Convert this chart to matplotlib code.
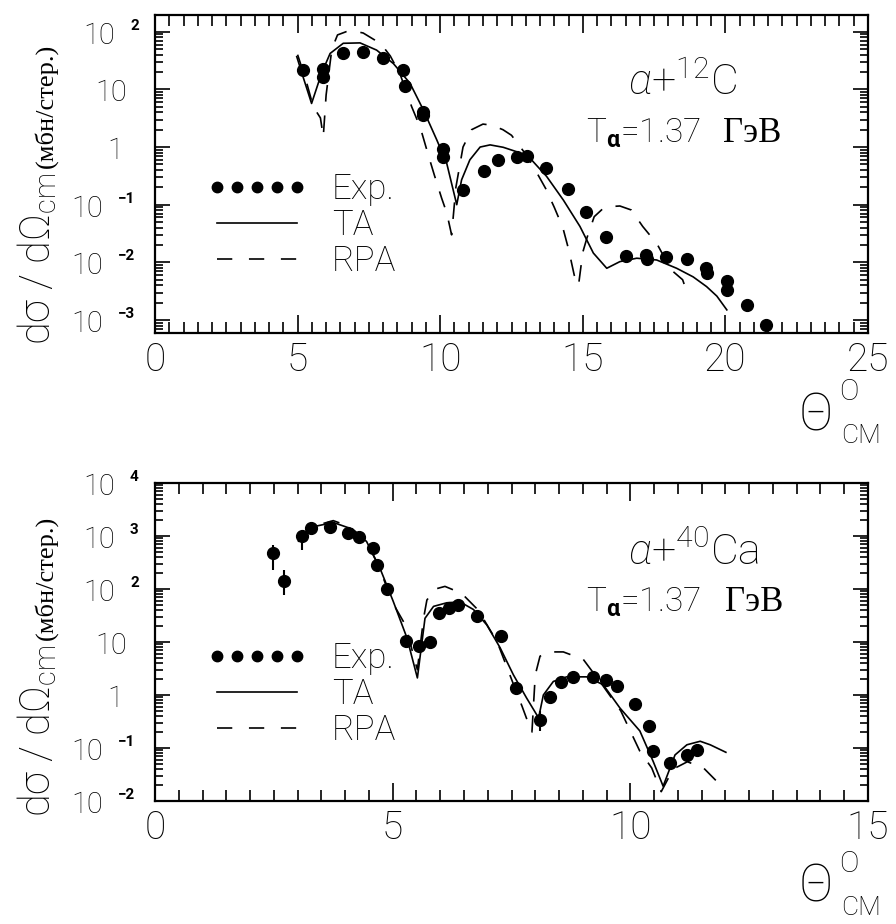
import matplotlib
matplotlib.use("Agg")
import matplotlib.pyplot as plt
from matplotlib.ticker import MultipleLocator, LogLocator, NullFormatter
from matplotlib.transforms import blended_transform_factory, offset_copy
from matplotlib.lines import Line2D

plt.rcParams['font.family'] = ['Roboto', 'DejaVu Sans']
plt.rcParams['font.weight'] = 'light'
plt.rcParams['mathtext.fontset'] = 'custom'
plt.rcParams['mathtext.rm'] = 'Roboto:light'
plt.rcParams['mathtext.it'] = 'Roboto:italic:light'
plt.rcParams['mathtext.bf'] = 'Roboto:bold'
plt.rcParams['lines.scale_dashes'] = False

# ---------------- data : alpha + 12C ----------------
c12_exp_theta = [5.18, 5.90, 5.88, 6.60, 7.28, 8.01, 8.68, 8.77, 9.39, 9.41, 10.09, 10.11,
                 10.81, 11.54, 12.04, 12.68, 13.03, 13.71, 14.49, 15.11, 15.81, 16.51, 17.21,
                 17.24, 17.92, 18.64, 19.32, 19.37, 20.05, 20.07, 20.75, 21.42]
c12_exp_sigma = [21.7, 23, 16.6, 42, 45, 34.6, 21.7, 11.5, 4.1, 3.6, 0.91, 0.66,
                 0.18, 0.39, 0.60, 0.68, 0.70, 0.43, 0.19, 0.076, 0.027, 0.013, 0.0135,
                 0.0113, 0.0126, 0.0113, 0.0079, 0.0065, 0.0047, 0.0033, 0.0018, 0.00083]

c12_ta_theta = [4.97, 5.2, 5.49, 5.84, 6.14, 6.60, 7.19, 7.77, 8.36, 8.94, 9.41, 9.88, 10.23,
                10.58, 10.75, 11.04, 11.40, 11.75, 12.21, 12.68, 13.15, 13.73, 14.32, 14.90,
                15.37, 15.84, 16.30, 16.89, 17.59, 18.29, 18.87, 19.34, 19.70, 20.05]
c12_ta_sigma = [37, 16, 5.7, 19, 42, 63, 64, 48, 28, 12.8, 4.4, 1.33, 0.52,
                0.1, 0.27, 0.6, 1.0, 1.09, 0.99, 0.83, 0.64, 0.31, 0.12, 0.042,
                0.0145, 0.0079, 0.0103, 0.0118, 0.011, 0.0079, 0.0056, 0.0038, 0.0026, 0.0015]

c12_rpa_theta = [5.0, 5.3, 5.55, 5.8, 5.9, 6.0, 6.2, 6.4, 6.7, 7.0, 7.3, 7.7, 8.0, 8.25, 8.6,
                 9.0, 9.3, 9.6, 9.8, 10.05, 10.23, 10.4, 10.55, 10.8, 11.1, 11.5, 11.8, 12.2,
                 12.5, 13.0, 13.4, 13.7, 14.0, 14.3, 14.5, 14.7, 14.85, 15.0, 15.15, 15.4,
                 15.7, 16.0, 16.3, 16.7, 17.1, 17.6, 18.1, 18.5, 18.7]
c12_rpa_sigma = [40, 14, 5, 3.2, 1.5, 8, 50, 88, 100, 102, 95, 72, 55, 38, 18,
                 5, 2.2, 0.68, 0.32, 0.13, 0.072, 0.03, 0.2, 1.0, 2.0, 2.5, 2.4, 2.0,
                 1.6, 0.75, 0.35, 0.19, 0.09, 0.04, 0.017, 0.006, 0.004, 0.015, 0.027, 0.062,
                 0.085, 0.093, 0.095, 0.081, 0.042, 0.021, 0.0074, 0.005, 0.0026]

# ---------------- data : alpha + 40Ca ----------------
ca_exp_theta = [2.48, 2.72, 3.09, 3.28, 3.68, 4.07, 4.30, 4.59, 4.68, 4.89, 5.28, 5.55,
                5.79, 5.98, 6.19, 6.38, 6.78, 7.27, 7.60, 8.09, 8.30, 8.54, 8.79, 9.22,
                9.49, 9.72, 10.10, 10.40, 10.48, 10.84, 11.19, 11.40]
ca_exp_sigma = [475, 140, 990, 1420, 1510, 1140, 960, 590, 280, 98, 10.6, 8.3,
                10, 35, 44, 49, 30.5, 12.8, 1.35, 0.34, 0.91, 1.77, 2.15, 2.15,
                1.95, 1.5, 0.68, 0.26, 0.087, 0.052, 0.074, 0.093]
ca_err_lo = [245, 62, 440, 0, 0, 0, 0, 0, 0, 0, 0, 0,
             0, 0, 0, 0, 0, 0, 0, 0.13, 0, 0, 0, 0,
             0, 0, 0, 0, 0, 0, 0, 0]
ca_err_hi = [205, 90, 300, 0, 0, 0, 0, 0, 0, 0, 0, 0,
             0, 0, 0, 0, 0, 0, 0, 0.16, 0, 0, 0, 0,
             0, 0, 0, 0, 0, 0, 0, 0]

ca_ta_theta = [3.02, 3.26, 3.75, 4.10, 4.45, 4.73, 5.01, 5.30, 5.52, 5.68, 5.86, 6.14, 6.42,
               6.70, 6.98, 7.26, 7.54, 7.82, 8.07, 8.17, 8.38, 8.66, 9.08, 9.43, 9.78, 10.2,
               10.48, 10.69, 10.94, 11.19, 11.47, 11.68, 12.01]
ca_ta_sigma = [800, 1450, 1800, 1400, 790, 250, 59, 12, 2.1, 28, 47, 55, 57,
               41, 21, 7.8, 2.4, 0.87, 0.37, 1.0, 1.8, 2.2, 2.2, 1.56, 0.57, 0.21,
               0.056, 0.019, 0.074, 0.115, 0.134, 0.115, 0.083]

ca_rpa_theta = [3.0, 3.3, 3.75, 4.1, 4.45, 4.73, 5.0, 5.28, 5.45, 5.52, 5.65, 5.72, 5.9, 6.1,
                6.45, 6.8, 7.2, 7.61, 7.72, 7.85, 7.93, 8.0, 8.1, 8.3, 8.59, 9.01, 9.4, 9.8,
                10.2, 10.45, 10.65, 10.9, 11.2, 11.54, 11.85]
ca_rpa_sigma = [900, 1500, 1950, 1500, 800, 240, 55, 20, 5, 3, 28, 62, 100, 112,
                83, 40, 10, 1.1, 0.62, 0.3, 0.2, 2.4, 5.4, 6.5, 6.5, 4.7, 1.6, 0.5,
                0.087, 0.042, 0.015, 0.04, 0.055, 0.042, 0.022]

legend_labels = ["Exp.", "TA", "RPA"]

W, H = 896, 924
fig = plt.figure(figsize=(W / 100, H / 100), dpi=100)
renderer = fig.canvas.get_renderer()


def fpos(x, y):
    return x / W, 1 - y / H


def make_axes(top_px, bottom_px):
    left, right = 155, 868
    return fig.add_axes([left / W, 1 - bottom_px / H, (right - left) / W, (bottom_px - top_px) / H])


def style_axes(ax, xmax, ylim, decades):
    ax.set_yscale('log')
    ax.set_xlim(0, xmax)
    ax.set_ylim(*ylim)
    ax.xaxis.set_major_locator(MultipleLocator(5))
    ax.xaxis.set_minor_locator(MultipleLocator(0.5))
    ax.yaxis.set_major_locator(LogLocator(base=10, numticks=20))
    ax.yaxis.set_minor_locator(LogLocator(base=10, subs=[2, 3, 4, 5, 6, 7, 8, 9], numticks=20))
    ax.yaxis.set_major_formatter(NullFormatter())
    ax.yaxis.set_minor_formatter(NullFormatter())
    ax.tick_params(which='both', direction='in', top=True, right=True, width=1.2, color='black')
    ax.tick_params(axis='y', which='major', length=11)
    ax.tick_params(axis='y', which='minor', length=6)
    ax.tick_params(axis='x', which='major', length=13)
    ax.tick_params(axis='x', which='minor', length=8)
    ax.tick_params(axis='x', which='major', labelsize=28, pad=6)
    for s in ax.spines.values():
        s.set_linewidth(1.6)
    trans = blended_transform_factory(ax.transAxes, ax.transData)
    for n in decades:
        v = 10.0 ** n
        if n == 0:
            ax.text(0, v, "1", transform=offset_copy(trans, fig=fig, x=-32, y=-4, units='dots'),
                    ha='right', va='center', fontsize=21)
        elif n == 1:
            ax.text(0, v, "10", transform=offset_copy(trans, fig=fig, x=-28, y=-4, units='dots'),
                    ha='right', va='center', fontsize=21)
        else:
            base_dx = -40 if n > 1 else -52
            exp_dx = -25 if n > 1 else -37
            ax.text(0, v, "10", transform=offset_copy(trans, fig=fig, x=base_dx, y=-4, units='dots'),
                    ha='right', va='center', fontsize=21)
            lab = str(n) if n > 0 else "\u2212" + str(-n)
            ax.text(0, v, lab, transform=offset_copy(trans, fig=fig, x=exp_dx, y=6, units='dots'),
                    ha='left', va='center', fontsize=11, fontweight='bold')


def add_legend(ax, ytop):
    handles = [Line2D([], [], ls='none', marker='o', ms=7.5, color='black'),
               Line2D([], [], ls='-', lw=1.2, color='black'),
               Line2D([], [], ls=(0, (11, 12)), lw=1.2, color='black')]
    ax.legend(handles, legend_labels, loc='upper left', bbox_to_anchor=(0.073, ytop),
              frameon=False, fontsize=25, numpoints=5, handlelength=2.9, handletextpad=0.7,
              labelspacing=0.08, borderpad=0, borderaxespad=0)


def add_ylabel(y_bottom):
    x, y = fpos(50, y_bottom)
    t1 = fig.text(x, y, "d\u03c3 / d\u03a9$_{\\mathrm{cm}}$", rotation=90, rotation_mode='anchor',
                  ha='left', va='baseline', fontsize=30)
    bb = t1.get_window_extent(renderer)
    y2 = (bb.y1 + 5) / H
    fig.text(52 / W, y2, "(\u043c\u0431\u043d/\u0441\u0442\u0435\u0440.)", rotation=90,
             rotation_mode='anchor', ha='left', va='baseline', fontsize=19, family='Liberation Serif')


def add_theta_label(yc):
    fig.text(*fpos(816, yc), "\u0398", ha='center', va='center', fontsize=37)
    fig.text(*fpos(849, yc - 24), "O", ha='center', va='center', fontsize=21)
    fig.text(*fpos(861, yc + 20), "CM", ha='center', va='center', fontsize=19)


def plot_panel(ax, et, es, tt, ts, rt, rs, yerr=None):
    if yerr is not None:
        ax.errorbar(et, es, yerr=yerr, fmt='none', ecolor='black', elinewidth=1.5, capsize=0)
    ax.plot(et, es, ls='none', marker='o', ms=8.5, color='black')
    ax.plot(tt, ts, ls='-', lw=1.2, color='black')
    ax.plot(rt, rs, ls=(0, (12, 10)), lw=1.2, color='black')


def add_labels(ax, nucleus, y1, y2, x_gev):
    ax.text(0.663, y1, "$\\alpha$+$^{" + nucleus[0] + "}$" + nucleus[1], transform=ax.transAxes,
            fontsize=31, va='baseline')
    ax.text(0.604, y2, "T$_{\\mathbf{\\alpha}}$=1.37", transform=ax.transAxes, fontsize=24,
            va='baseline')
    ax.text(x_gev, y2, "\u0413\u044d\u0412", transform=ax.transAxes, fontsize=25, va='baseline',
            family='Liberation Serif')


# ---- top panel ----
ax1 = make_axes(15, 333)
style_axes(ax1, 25, (10 ** -3.225, 10 ** 2.29), range(-3, 3))
plot_panel(ax1, c12_exp_theta, c12_exp_sigma, c12_ta_theta, c12_ta_sigma, c12_rpa_theta, c12_rpa_sigma)
add_legend(ax1, 0.505)
add_labels(ax1, ("12", "C"), 0.748, 0.60, 0.796)
add_ylabel(345)
add_theta_label(416)

# ---- bottom panel ----
ax2 = make_axes(483, 801)
style_axes(ax2, 15, (1e-2, 1e4), range(-2, 5))
plot_panel(ax2, ca_exp_theta, ca_exp_sigma, ca_ta_theta, ca_ta_sigma, ca_rpa_theta, ca_rpa_sigma,
           yerr=[ca_err_lo, ca_err_hi])
add_legend(ax2, 0.502)
add_labels(ax2, ("40", "Ca"), 0.742, 0.597, 0.800)
add_ylabel(817)
add_theta_label(888)

fig.savefig("out.png", dpi=100, facecolor='white')
